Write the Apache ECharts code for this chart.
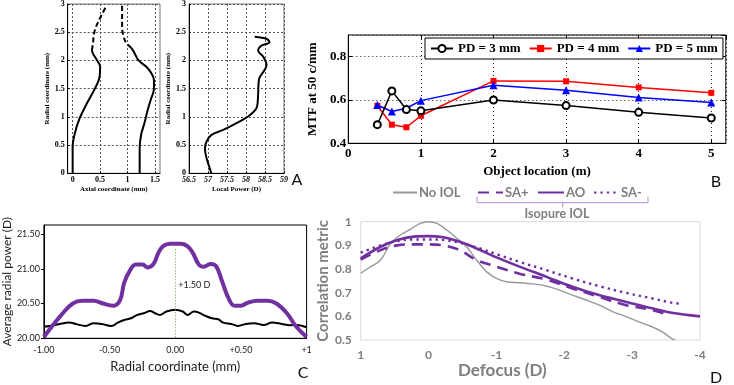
<!DOCTYPE html>
<html><head><meta charset="utf-8">
<script src="https://cdn.jsdelivr.net/npm/echarts@6/dist/echarts.min.js"></script>
<style>html,body{margin:0;padding:0;background:#fff}#c{width:734px;height:385px}</style>
</head><body><div id="c"></div>
<script>
// ---------- Panel A (left): axial vs radial coordinate (mm) ----------
const aInnerSolid  = [[0,0],[0,0.47],[0.04,0.71],[0.13,0.98],[0.26,1.24],[0.41,1.51],[0.49,1.71],[0.5,1.89],[0.44,2.01],[0.37,2.12],[0.35,2.18]];
const aInnerDashed = [[0.35,2.18],[0.37,2.3],[0.39,2.48],[0.44,2.63],[0.53,2.81],[0.62,2.98]];
const aOuterSolid  = [[1.22,0],[1.22,0.45],[1.25,0.7],[1.31,0.9],[1.36,1.1],[1.42,1.3],[1.48,1.5],[1.48,1.65],[1.44,1.76],[1.35,1.88],[1.2,2.0],[1.11,2.16],[1.07,2.22]];
const aOuterDashed = [[1.07,2.22],[0.97,2.32],[0.92,2.45],[0.9,2.6],[0.9,2.8],[0.9,2.98]];
const aAxialTicks  = [0,0.5,1,1.5];
// ---------- Panel A (right): local power vs radial coordinate ----------
const aLocalPower  = [[57.09,0],[57.03,0.12],[56.95,0.3],[56.92,0.44],[56.96,0.56],[57.09,0.68],[57.4,0.77],[57.75,0.89],[58.1,1.03],[58.29,1.18],[58.32,1.42],[58.34,1.66],[58.54,1.92],[58.45,2.07],[58.32,2.17],[58.4,2.26],[58.62,2.32],[58.55,2.38],[58.23,2.42]];
// ---------- Panel B: MTF at 50 c/mm ----------
const bLocations = [0.4,0.6,0.8,1,2,3,4,5];
const bPD3 = [0.486,0.642,0.556,0.55,0.6,0.574,0.543,0.517];
const bPD4 = [0.573,0.486,0.474,0.527,0.688,0.686,0.658,0.633];
const bPD5 = [0.577,0.547,0.562,0.597,0.668,0.645,0.612,0.588];
const bNames = ['PD = 3 mm','PD = 4 mm','PD = 5 mm'];
// ---------- Panel C: average radial power ----------
const cPurpleX = [-1,-0.93,-0.857,-0.78,-0.71,-0.62,-0.55,-0.47,-0.42,-0.39,-0.35,-0.3,-0.25,-0.21,-0.165,-0.128,-0.09,-0.04,0,0.04,0.09,0.13,0.18,0.217,0.267,0.31,0.353,0.4,0.45,0.5,0.55,0.625,0.7,0.77,0.85,0.92,1];
const cPurpleY = [20.02,20.19,20.36,20.5,20.54,20.54,20.5,20.47,20.55,20.79,20.96,21.06,21.06,21.02,21.07,21.23,21.33,21.36,21.36,21.36,21.33,21.24,21.06,21.03,21.07,21.04,20.84,20.6,20.47,20.47,20.51,20.54,20.54,20.5,20.36,20.17,20.02];
const cBlackX = [-1,-0.956,-0.881,-0.807,-0.758,-0.684,-0.622,-0.56,-0.486,-0.437,-0.388,-0.338,-0.289,-0.24,-0.19,-0.153,-0.116,-0.067,0,0.057,0.094,0.143,0.18,0.23,0.279,0.328,0.365,0.427,0.477,0.538,0.6,0.674,0.736,0.81,0.872,0.921,1];
const cBlackY = [20.168,20.178,20.207,20.226,20.207,20.178,20.216,20.207,20.178,20.226,20.264,20.288,20.337,20.36,20.394,20.36,20.337,20.385,20.409,20.385,20.337,20.385,20.37,20.322,20.288,20.274,20.226,20.207,20.178,20.207,20.216,20.192,20.226,20.207,20.188,20.192,20.159];
const cXTickLabels = ['-1.00','-0.50','0.00','+0.50','+1'];
const cAnnotation = {x:0, top:21.28, bottom:20, labelY:20.77, text:'+1.50 D'};
// ---------- Panel D: correlation metric vs defocus ----------
const dNoIOL = [[1,0.782],[0.854,0.81],[0.707,0.838],[0.56,0.908],[0.415,0.944],[0.268,0.968],[0.122,0.993],[0,1.0],[-0.122,0.993],[-0.268,0.965],[-0.415,0.93],[-0.56,0.894],[-0.707,0.838],[-0.854,0.789],[-1,0.76],[-1.146,0.746],[-1.34,0.742],[-1.537,0.737],[-1.73,0.728],[-1.93,0.711],[-2.12,0.69],[-2.32,0.669],[-2.51,0.648],[-2.71,0.62],[-2.9,0.6],[-3.1,0.577],[-3.29,0.556],[-3.44,0.535],[-3.58,0.507],[-3.63,0.5]];
const dSAplus = [[1,0.84],[0.707,0.88],[0.46,0.9],[0.22,0.904],[0,0.904],[-0.22,0.9],[-0.46,0.88],[-0.707,0.838],[-1,0.81],[-1.34,0.78],[-1.73,0.756],[-2.12,0.718],[-2.51,0.683],[-2.9,0.648],[-3.29,0.627],[-3.46,0.613]];
const dAO = [[1,0.845],[0.707,0.894],[0.46,0.923],[0.22,0.937],[0,0.939],[-0.22,0.934],[-0.46,0.915],[-0.707,0.887],[-1,0.849],[-1.34,0.81],[-1.73,0.768],[-2.12,0.725],[-2.51,0.69],[-2.9,0.662],[-3.29,0.634],[-3.58,0.615],[-4,0.6]];
const dSAminus = [[1,0.869],[0.707,0.9],[0.46,0.918],[0.22,0.925],[0,0.925],[-0.22,0.923],[-0.46,0.911],[-0.756,0.887],[-1,0.863],[-1.34,0.83],[-1.73,0.796],[-2.12,0.76],[-2.51,0.728],[-2.9,0.7],[-3.29,0.676],[-3.58,0.658],[-3.75,0.652]];
const dNames = ['No IOL','SA+','AO','SA-'];

const SERIF = 'Liberation Serif';
const SANS = 'Lato';
const PURPLE = '#7030A0';
const DGRAY = '#7f7f7f';

function zip(xs, ys){ return xs.map((x,i)=>[x, ys[i]]); }

const chart = echarts.init(document.getElementById('c'), null, {renderer:'canvas'});

function aLabel(extra){ return Object.assign({fontFamily:SERIF, fontWeight:'bold', fontSize:8, color:'#000', margin:3}, extra||{}); }
function aName(){ return {fontFamily:SERIF, fontWeight:'bold', fontSize:7, color:'#000'}; }
function aSplit(){ return {show:true, lineStyle:{color:'#555', type:[2,2], width:1}}; }
const bText = {fontFamily:SERIF, fontWeight:'bold', fontSize:13, color:'#000'};
const dLegendText = {fontFamily:SANS, fontWeight:'bold', fontSize:13, color:DGRAY, padding:[0,0,0,-3]};

function lineSeries(name, data, xi, yi, style){
  return Object.assign({type:'line', name, data, xAxisIndex:xi, yAxisIndex:yi, symbol:'none', smooth:0.35, silent:true, animation:false, clip:true}, style);
}
function dLegend(name, left, w){
  return {data:[name], left, top:186, padding:0, itemWidth:w, itemHeight:12, selectedMode:false,
          itemStyle:{opacity:0}, textStyle:dLegendText};
}

const option = {
  animation:false,
  grid:[
    {left:67.7, top:4, width:92.3, height:169.3, show:true, backgroundColor:'transparent', borderColor:'#777', borderWidth:1, z:0},
    {left:189, top:4, width:95, height:169.3, show:true, backgroundColor:'transparent', borderColor:'#777', borderWidth:1, z:0},
    {left:348.3, top:35, width:377.5, height:108.3, show:true, borderColor:'#000', borderWidth:1},
    {left:37.3, top:225, width:269.3, height:113.3, show:true, borderColor:'#000', borderWidth:1},
    {left:360.7, top:221.7, width:339.3, height:118.3, show:true, borderColor:'#d9d9d9', borderWidth:1}
  ],
  xAxis:[
    {gridIndex:0, type:'value', min:-0.09, max:1.59, z:3,
     axisLine:{onZero:false, lineStyle:{color:'#000'}}, axisTick:{show:true, inside:true, length:2, customValues:aAxialTicks},
     axisLabel:aLabel({customValues:aAxialTicks}), splitLine:aSplit(),
     name:'Axial coordinate (mm)', nameLocation:'middle', nameGap:10, nameTextStyle:aName()},
    {gridIndex:1, type:'value', min:56.5, max:59, interval:0.5, z:3,
     axisLine:{onZero:false, lineStyle:{color:'#000'}}, axisTick:{show:true, inside:true, length:2},
     axisLabel:aLabel({fontStyle:'italic', showMinLabel:true, showMaxLabel:true}), splitLine:aSplit(),
     name:'Local Power (D)', nameLocation:'middle', nameGap:10, nameTextStyle:aName()},
    {gridIndex:2, type:'value', min:0, max:5.2, interval:1,
     axisLine:{onZero:false, lineStyle:{color:'#000', width:1}}, axisTick:{show:true, inside:true, length:4, lineStyle:{color:'#000'}},
     axisLabel:Object.assign({showMaxLabel:false, margin:4}, bText),
     splitLine:{show:true, lineStyle:{color:'#222', type:[1,3], width:1}},
     name:'Object location (m)', nameLocation:'middle', nameGap:22, nameTextStyle:bText},
    {gridIndex:2, type:'value', min:0, max:5.2, interval:1, position:'top',
     axisLine:{show:false, onZero:false}, axisTick:{show:true, inside:true, length:4, lineStyle:{color:'#000'}},
     axisLabel:{show:false}, splitLine:{show:false}},
    {gridIndex:3, type:'value', min:-1, max:1, interval:0.5,
     axisLine:{onZero:false, lineStyle:{color:'#000'}}, axisTick:{show:false},
     axisLabel:{fontFamily:SANS, fontSize:9, color:'#222', margin:7, formatter:(v,i)=>cXTickLabels[i]},
     splitLine:{show:false},
     name:'Radial coordinate (mm)', nameLocation:'middle', nameGap:22, nameTextStyle:{fontFamily:SANS, fontSize:13, color:'#222'}},
    {gridIndex:4, type:'value', min:-4, max:1, interval:1, inverse:true,
     axisLine:{show:false, onZero:false}, axisTick:{show:false},
     axisLabel:{fontFamily:SANS, fontWeight:'bold', fontSize:12, color:DGRAY, margin:9},
     splitLine:{show:false},
     name:'Defocus (D)', nameLocation:'middle', nameGap:21,
     nameTextStyle:{fontFamily:SANS, fontWeight:'bold', fontSize:17, color:DGRAY, padding:[0,56,0,0]}}
  ],
  yAxis:[
    {gridIndex:0, type:'value', min:0, max:3, interval:0.5, z:3,
     axisLine:{onZero:false, lineStyle:{color:'#000'}}, axisTick:{show:true, inside:true, length:2},
     axisLabel:aLabel(), splitLine:aSplit(),
     name:'Radial coordinate (mm)', nameLocation:'middle', nameGap:13, nameTextStyle:aName()},
    {gridIndex:1, type:'value', min:0, max:3, interval:0.5, z:3,
     axisLine:{onZero:false, lineStyle:{color:'#000'}}, axisTick:{show:true, inside:true, length:2},
     axisLabel:aLabel(), splitLine:aSplit(),
     name:'Radial coordinate (mm)', nameLocation:'middle', nameGap:11, nameTextStyle:aName()},
    {gridIndex:2, type:'value', min:0.4, max:0.9, interval:0.2,
     axisLine:{onZero:false, lineStyle:{color:'#000'}}, axisTick:{show:true, inside:true, length:4, lineStyle:{color:'#000'}},
     axisLabel:Object.assign({showMaxLabel:false, margin:2, formatter:v=>v.toFixed(1)}, bText),
     splitLine:{show:true, lineStyle:{color:'#222', type:[1,3], width:1}},
     name:'MTF at 50 c/mm', nameLocation:'middle', nameGap:25, nameTextStyle:bText},
    {gridIndex:2, type:'value', min:0.4, max:0.9, interval:0.2, position:'right',
     axisLine:{show:false, onZero:false}, axisTick:{show:true, inside:true, length:4, lineStyle:{color:'#000'}},
     axisLabel:{show:false}, splitLine:{show:false}},
    {gridIndex:3, type:'value', min:20, max:21.63, interval:0.5,
     axisLine:{onZero:false, lineStyle:{color:'#000'}}, axisTick:{show:true, inside:false, length:3, lineStyle:{color:'#000'}},
     axisLabel:{fontFamily:SANS, fontSize:9, color:'#222', margin:4, showMaxLabel:false, formatter:v=>v.toFixed(2)},
     splitLine:{show:false},
     name:'Average radial power (D)', nameLocation:'middle', nameGap:24, nameTextStyle:{fontFamily:SANS, fontSize:12, color:'#222'}},
    {gridIndex:4, type:'value', min:0.5, max:1, interval:0.1,
     axisLine:{show:false, onZero:false}, axisTick:{show:false},
     axisLabel:{fontFamily:SANS, fontWeight:'bold', fontSize:12, color:DGRAY, margin:9, formatter:v=>String(+v.toFixed(1))},
     splitLine:{show:false},
     name:'Correlation metric', nameLocation:'middle', nameGap:28, nameTextStyle:{fontFamily:SANS, fontWeight:'bold', fontSize:15, color:DGRAY}}
  ],
  legend:[
    {data:bNames, left:425, top:38, orient:'horizontal', padding:[4,5], itemGap:8, itemWidth:22, itemHeight:9,
     borderColor:'#000', borderWidth:1, backgroundColor:'#fff', textStyle:bText, selectedMode:false},
    dLegend(dNames[0], 392, 24),
    dLegend(dNames[1], 477, 25),
    dLegend(dNames[2], 537, 26),
    dLegend(dNames[3], 593, 25)
  ],
  series:[
    lineSeries('a-inner', aInnerSolid, 0, 0, {lineStyle:{color:'#000', width:2}, z:5}),
    lineSeries('a-inner-d', aInnerDashed, 0, 0, {lineStyle:{color:'#000', width:2, type:[5,3]}, z:5}),
    lineSeries('a-outer', aOuterSolid, 0, 0, {lineStyle:{color:'#000', width:2}, z:5}),
    lineSeries('a-outer-d', aOuterDashed, 0, 0, {lineStyle:{color:'#000', width:2, type:[5,3]}, z:5}),
    lineSeries('a-power', aLocalPower, 1, 1, {lineStyle:{color:'#000', width:2}, z:5}),

    {type:'line', name:bNames[0], data:zip(bLocations,bPD3), xAxisIndex:2, yAxisIndex:2, symbol:'emptyCircle', symbolSize:7,
     itemStyle:{color:'#000', borderWidth:1.5}, lineStyle:{color:'#000', width:1.5}, z:3},
    {type:'line', name:bNames[1], data:zip(bLocations,bPD4), xAxisIndex:2, yAxisIndex:2, symbol:'rect', symbolSize:6,
     itemStyle:{color:'#ff0000'}, lineStyle:{color:'#ff0000', width:1.5}, z:2},
    {type:'line', name:bNames[2], data:zip(bLocations,bPD5), xAxisIndex:2, yAxisIndex:2, symbol:'triangle', symbolSize:8,
     itemStyle:{color:'#0000ff'}, lineStyle:{color:'#0000ff', width:1.5}, z:2},

    lineSeries('c-black', zip(cBlackX,cBlackY), 4, 4, {lineStyle:{color:'#000', width:2}, smooth:0.4,
      markLine:{silent:true, symbol:'none', animation:false, label:{show:false},
        lineStyle:{color:'#5f9a4e', type:[1,2], width:1},
        data:[[{coord:[cAnnotation.x, cAnnotation.top]},{coord:[cAnnotation.x, cAnnotation.bottom]}]]},
      markPoint:{silent:true, animation:false, symbol:'circle', symbolSize:0,
        label:{show:true, position:'right', distance:3, formatter:cAnnotation.text, fontFamily:SANS, fontSize:9, color:'#222'},
        data:[{coord:[cAnnotation.x, cAnnotation.labelY]}]}}),
    lineSeries('c-purple', zip(cPurpleX,cPurpleY), 4, 4, {lineStyle:{color:PURPLE, width:4}, smooth:0.4}),

    lineSeries(dNames[0], dNoIOL, 5, 5, {lineStyle:{color:'#999', width:1.4}, itemStyle:{color:'#999'}, z:2}),
    lineSeries(dNames[1], dSAplus, 5, 5, {lineStyle:{color:PURPLE, width:2.6, type:[11,7]}, itemStyle:{color:PURPLE}, z:3}),
    lineSeries(dNames[2], dAO, 5, 5, {lineStyle:{color:PURPLE, width:2.6}, itemStyle:{color:PURPLE}, z:3}),
    lineSeries(dNames[3], dSAminus, 5, 5, {lineStyle:{color:PURPLE, width:2.4, type:[2.4,4]}, itemStyle:{color:PURPLE}, z:3})
  ],
  graphic:[
    {type:'polyline', shape:{points:[[477,196.5],[477,202.7],[648,202.7],[648,196.5]]}, style:{stroke:'#b58ed6', lineWidth:1, fill:null}, silent:true},
    {type:'line', shape:{x1:562.7, y1:202.7, x2:562.7, y2:207.5}, style:{stroke:'#b58ed6', lineWidth:1}, silent:true},
    {type:'text', x:557, y:213.5, style:{text:'Isopure IOL', fontFamily:SANS, fontWeight:'bold', fontSize:12.5, fill:DGRAY, align:'center', verticalAlign:'middle'}, silent:true},
    {type:'text', x:297, y:180, style:{text:'A', fontFamily:SANS, fontSize:16, fill:'#111', align:'center', verticalAlign:'middle'}, silent:true},
    {type:'text', x:716, y:182, style:{text:'B', fontFamily:SANS, fontSize:16, fill:'#111', align:'center', verticalAlign:'middle'}, silent:true},
    {type:'text', x:303, y:373, style:{text:'C', fontFamily:SANS, fontSize:16, fill:'#111', align:'center', verticalAlign:'middle'}, silent:true},
    {type:'text', x:716, y:378, style:{text:'D', fontFamily:SANS, fontSize:16, fill:'#111', align:'center', verticalAlign:'middle'}, silent:true}
  ]
};
chart.setOption(option);
</script>
</body></html>
